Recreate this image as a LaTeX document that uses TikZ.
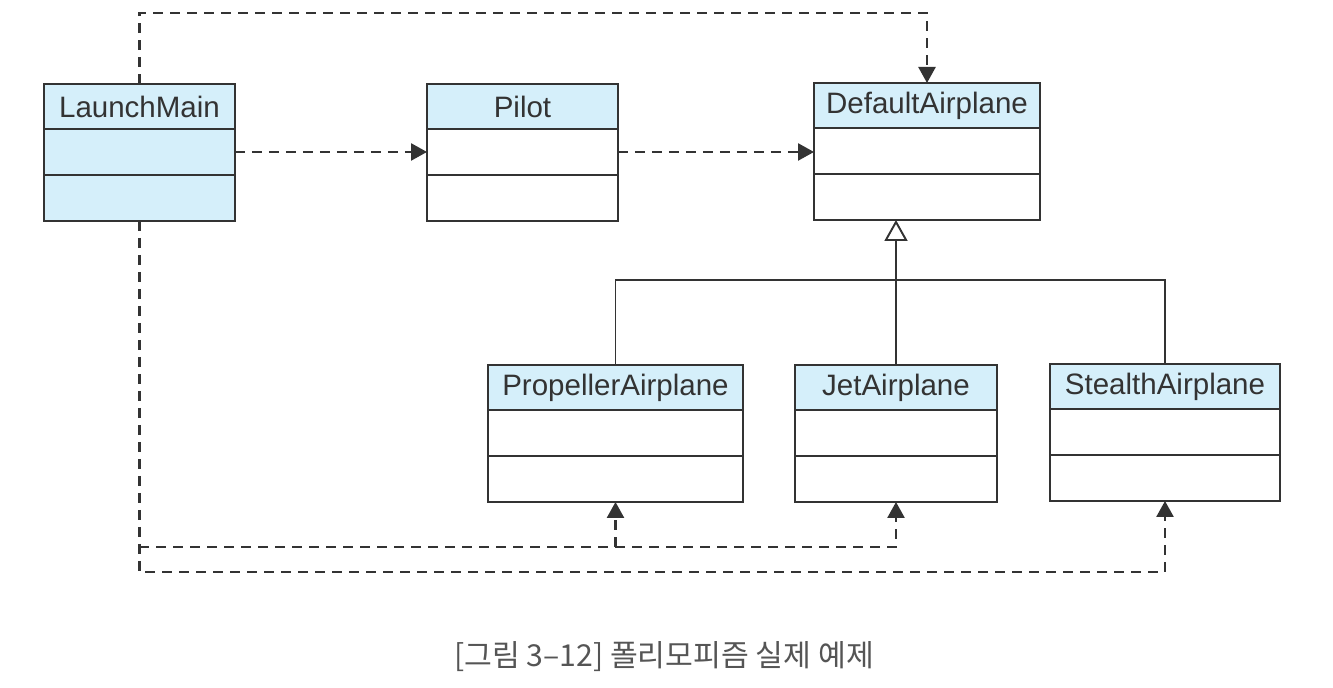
\documentclass[tikz,border=0pt]{standalone}
\usepackage{fontspec}
\setmainfont{Liberation Sans}
\newfontfamily\hangul{Noto Sans CJK KR}
\usetikzlibrary{arrows.meta}
\definecolor{umlblue}{HTML}{D5EFFA}
\definecolor{umlline}{HTML}{333333}
\definecolor{capgray}{HTML}{555555}

\begin{document}
\begin{tikzpicture}[x=0.02cm, y=-0.02cm,
    classhead/.style={draw=umlline, line width=0.9pt, fill=umlblue, anchor=north,
        minimum height=0.9cm, inner sep=0pt, outer sep=0pt, text=umlline,
        font=\fontsize{16.8}{18}\selectfont},
    classpart/.style={draw=umlline, line width=0.9pt, anchor=north,
        minimum height=0.92cm, inner sep=0pt, outer sep=0pt},
    dep/.style={draw=umlline, line width=1.4pt, dash pattern=on 0.2cm off 0.14cm,
        -{Triangle[length=0.32cm, width=0.34cm]}},
    gen/.style={draw=umlline, line width=1.1pt}]
    \useasboundingbox (0,0) rectangle (1333,688);

    % classes
    \foreach \nm/\cx/\ty/\w/\txt/\fl in {launch/139.5/84/3.82/LaunchMain/umlblue,
            pilot/522.5/84/3.82/Pilot/white, default/927/83/4.52/DefaultAirplane/white,
            prop/615.5/365/5.1/PropellerAirplane/white, jet/896/365/4.04/JetAirplane/white,
            stealth/1165/364/4.6/StealthAirplane/white}
    {
        \node[classhead, minimum width=\w cm] (\nm) at (\cx,\ty) {\txt};
        \node[classpart, minimum width=\w cm, fill=\fl] (\nm-a) at (\nm.south) {};
        \node[classpart, minimum width=\w cm, fill=\fl] (\nm-b) at (\nm-a.south) {};
    }

    % bus lines
    \coordinate (topbus) at (500,13);
    \coordinate (genbus) at (896,280);
    \coordinate (midbus) at (0,547);
    \coordinate (lowbus) at (0,572);

    % dependencies
    \draw[dep] (launch.north) |- (topbus) -| (default.north);
    \draw[dep] (launch-a.east) -- (pilot-a.west);
    \draw[dep] (pilot-a.east) -- (pilot-a.east -| default-a.west);
    \draw[dep] (launch-b.south) -- (launch-b.south |- lowbus) -| (stealth-b.south);
    \draw[dep] (launch-b.south |- midbus) -| (jet-b.south);
    \draw[dep] (prop-b.south |- midbus) -- (prop-b.south);

    % generalization
    \draw[gen, -{Triangle[open, length=0.42cm, width=0.46cm, fill=white]}]
        (genbus) -- (genbus |- default-b.south);
    \draw[gen] (prop.north) |- (genbus) -| (stealth.north);
    \draw[gen] (jet.north) -- (genbus);

    % caption
    \node[text=capgray, font=\hangul\fontsize{17.2}{19}\selectfont] (caption) at (664,657)
        {[그림 3–12] 폴리모피즘 실제 예제};
\end{tikzpicture}
\end{document}
